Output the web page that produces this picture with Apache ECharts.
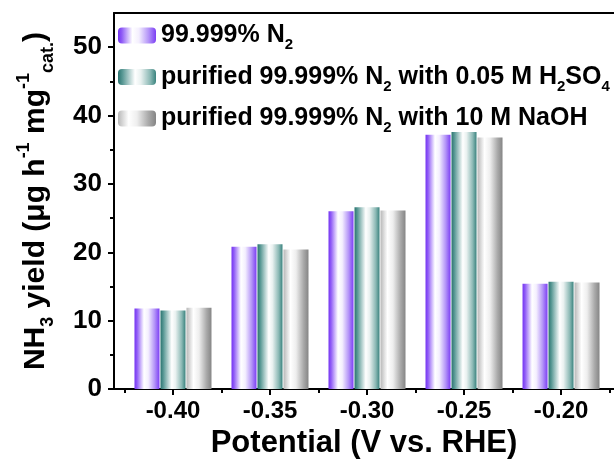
<!DOCTYPE html>
<html><head><meta charset="utf-8">
<script src="https://cdn.jsdelivr.net/npm/echarts@6/dist/echarts.min.js"></script>
<style>html,body{margin:0;padding:0;background:#fff}#c{width:614px;height:464px}</style>
</head><body><div id="c"></div>
<script>
// ---- data ----
const potentials = [-0.40, -0.35, -0.30, -0.25, -0.20];
const xMinorTicks = [-0.425, -0.375, -0.325, -0.275, -0.225, -0.175];
const yTicks = [0, 10, 20, 30, 40, 50];
const yMinorTicks = [5, 15, 25, 35, 45];
const seriesNames = ['99.999% N2', 'purified 99.999% N2 with 0.05 M H2SO4', 'purified 99.999% N2 with 10 M NaOH'];
const yieldN2 = [11.8, 20.8, 26.0, 37.2, 15.4];
const yieldH2SO4 = [11.5, 21.2, 26.6, 37.6, 15.7];
const yieldNaOH = [11.9, 20.4, 26.1, 36.8, 15.6];

const FF = '"Liberation Sans", Arial, sans-serif';
const legendRich = {
  '99.999% N2': '{t|99.999% N}{s|2}',
  'purified 99.999% N2 with 0.05 M H2SO4': '{t|purified 99.999% N}{s|2}{t| with 0.05 M H}{s|2}{t|SO}{s|4}',
  'purified 99.999% N2 with 10 M NaOH': '{t|purified 99.999% N}{s|2}{t| with 10 M NaOH}'
};

function grad(stops) {
  return new echarts.graphic.LinearGradient(0, 0, 1, 0, stops.map(s => ({offset: s[0], color: s[1]})));
}
const colPurple = grad([[0, '#7434f2'], [0.1, '#8f5bf6'], [0.38, '#ffffff'], [0.55, '#f4effe'], [0.8, '#b596f8'], [1, '#7c3ff4']]);
const colTeal = grad([[0, '#2a7470'], [0.12, '#5a9995'], [0.45, '#ffffff'], [0.6, '#e9f1f0'], [0.85, '#8ab8b4'], [1, '#3a837e']]);
const colGray = grad([[0, '#b8b8b8'], [0.28, '#ffffff'], [0.5, '#eeeeee'], [0.8, '#aaaaaa'], [1, '#858585']]);

const values = [yieldN2, yieldH2SO4, yieldNaOH];
const colors = [colPurple, colTeal, colGray];

const XMIN = -0.4304, XMAX = -0.1727;
const black = '#000';

const chart = echarts.init(document.getElementById('c'), null, {renderer: 'canvas'});
chart.setOption({
  animation: false,
  backgroundColor: '#fff',
  textStyle: {fontFamily: FF},
  grid: {left: 114, right: 0, top: 13, bottom: 74, containLabel: false},
  legend: {
    orient: 'vertical', left: 113, top: 18, itemGap: 12,
    itemWidth: 38, itemHeight: 16,
    data: seriesNames,
    formatter: n => legendRich[n],
    textStyle: {
      color: black,
      rich: {
        t: {fontSize: 25, fontWeight: 'bold', fontFamily: FF, color: black, lineHeight: 34, verticalAlign: 'middle'},
        s: {fontSize: 15, fontWeight: 'bold', fontFamily: FF, color: black, verticalAlign: 'bottom'}
      }
    }
  },
  xAxis: [
    {
      type: 'value', min: XMIN, max: XMAX, position: 'bottom',
      axisLine: {show: true, onZero: false, lineStyle: {color: black, width: 2}},
      axisTick: {show: true, customValues: potentials, length: 6, lineStyle: {color: black, width: 2}},
      axisLabel: {customValues: potentials, formatter: v => v.toFixed(2), color: black, fontSize: 24, fontWeight: 'bold', fontFamily: FF, margin: 10},
      splitLine: {show: false},
      name: 'Potential (V vs. RHE)', nameLocation: 'middle', nameGap: 37,
      nameTextStyle: {color: black, fontSize: 31, fontWeight: 'bold', fontFamily: FF}
    },
    {
      type: 'value', min: XMIN, max: XMAX, position: 'bottom',
      axisLine: {show: false, onZero: false},
      axisTick: {show: true, customValues: xMinorTicks, length: 4, lineStyle: {color: black, width: 2}},
      axisLabel: {show: false}, splitLine: {show: false}
    },
    {
      type: 'value', min: XMIN, max: XMAX, position: 'top',
      axisLine: {show: true, onZero: false, lineStyle: {color: black, width: 2}},
      axisTick: {show: false}, axisLabel: {show: false}, splitLine: {show: false}
    }
  ],
  yAxis: [
    {
      type: 'value', min: 0, max: 55, position: 'left',
      axisLine: {show: true, onZero: false, lineStyle: {color: black, width: 2}},
      axisTick: {show: true, customValues: yTicks, length: 6, lineStyle: {color: black, width: 2}},
      axisLabel: {customValues: yTicks, color: black, fontSize: 26, fontWeight: 'bold', fontFamily: FF, margin: 12},
      splitLine: {show: false},
      name: '{t|NH}{s|3}{t| yield (μg h}{p|-1}{t| mg}{p|-1}{s|cat.}{t|)}',
      nameLocation: 'middle', nameRotate: 90, nameGap: 57,
      nameTextStyle: {
        rich: {
          t: {fontSize: 30, fontWeight: 'bold', fontFamily: FF, color: black, lineHeight: 42, verticalAlign: 'middle'},
          s: {fontSize: 18, fontWeight: 'bold', fontFamily: FF, color: black, verticalAlign: 'bottom'},
          p: {fontSize: 18, fontWeight: 'bold', fontFamily: FF, color: black, verticalAlign: 'top'}
        }
      }
    },
    {
      type: 'value', min: 0, max: 55, position: 'left',
      axisLine: {show: false, onZero: false},
      axisTick: {show: true, customValues: yMinorTicks, length: 4, lineStyle: {color: black, width: 2}},
      axisLabel: {show: false}, splitLine: {show: false}
    }
  ],
  series: seriesNames.map((name, k) => ({
    name: name, type: 'bar', xAxisIndex: 0, yAxisIndex: 0,
    barWidth: 25, barGap: '4%',
    itemStyle: {color: colors[k]},
    data: potentials.map((p, i) => [p, values[k][i]])
  }))
});
</script>
</body></html>
